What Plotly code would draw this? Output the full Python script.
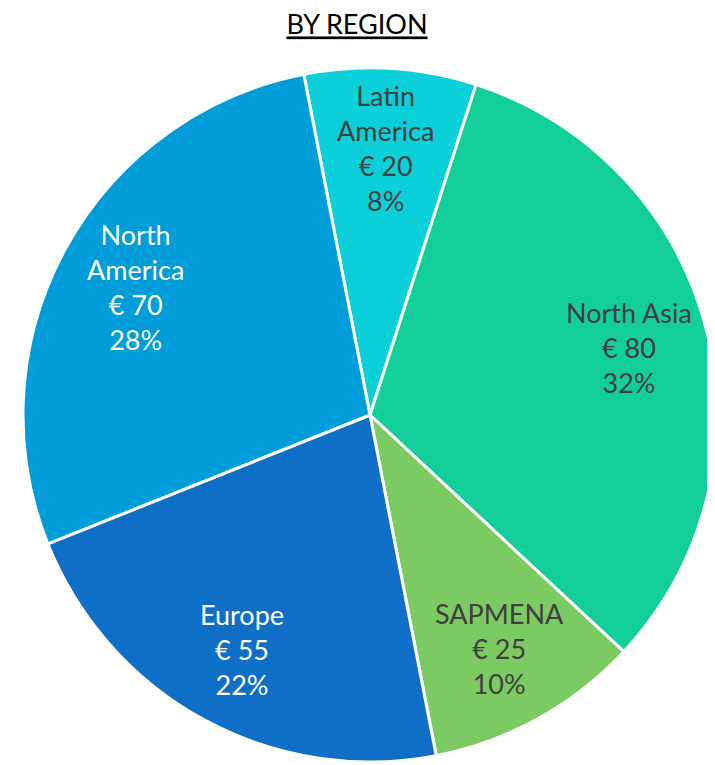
import math
import plotly.graph_objects as go

regions = ["Latin<br>America", "North Asia", "SAPMENA", "Europe", "North<br>America"]
values = [20, 80, 25, 55, 70]
percents = ["8%", "32%", "10%", "22%", "28%"]
colors = ["#0BCFD9", "#12CF9A", "#7CCA62", "#0F6FC6", "#009DD9"]
text_colors = ["#404040", "#404040", "#404040", "#FFFFFF", "#FFFFFF"]

W, H = 715, 765
OFF = 8                      # page body margin offset
CX, CY, R = 370 - OFF, 415 - OFF, 347   # pie centre / radius in figure pixels
ROT = -11
FONT = "Lato, Open Sans, sans-serif"

fig = go.Figure(go.Pie(
    labels=regions,
    values=values,
    textinfo="none",
    sort=False,
    direction="clockwise",
    rotation=ROT,
    marker=dict(colors=colors, line=dict(color="white", width=3)),
    showlegend=False,
    hoverinfo="skip",
    domain=dict(x=[(CX - R) / W, min(1, (CX + R) / W)],
                y=[max(0, 1 - (CY + R) / H), 1 - (CY - R) / H]),
))

# labels placed at ~0.77 R along each slice's mid-angle (derived from values)
total = sum(values)
cum = 0
annotations = []
for lab, v, p, tc in zip(regions, values, percents, text_colors):
    mid = math.radians(ROT + 360 * (cum + v / 2) / total)
    cum += v
    k = 0.77 * R
    px = CX + k * math.sin(mid)
    py = CY - k * math.cos(mid)
    annotations.append(dict(
        x=px / W, y=1 - py / H, xref="paper", yref="paper",
        text=f"{lab}<br>€ {v}<br>{p}", showarrow=False,
        xanchor="center", yanchor="middle", align="center",
        font=dict(family=FONT, size=27, color=tc),
    ))

fig.update_layout(
    width=W, height=H,
    margin=dict(l=0, r=0, t=0, b=0),
    paper_bgcolor="white",
    title=dict(text="<u>BY REGION</u>", x=(357 - OFF) / W, xanchor="center",
               y=1 - 17 / H, yanchor="middle",
               font=dict(family=FONT, size=27, color="black")),
    annotations=annotations,
)

fig.write_html("out.html")
